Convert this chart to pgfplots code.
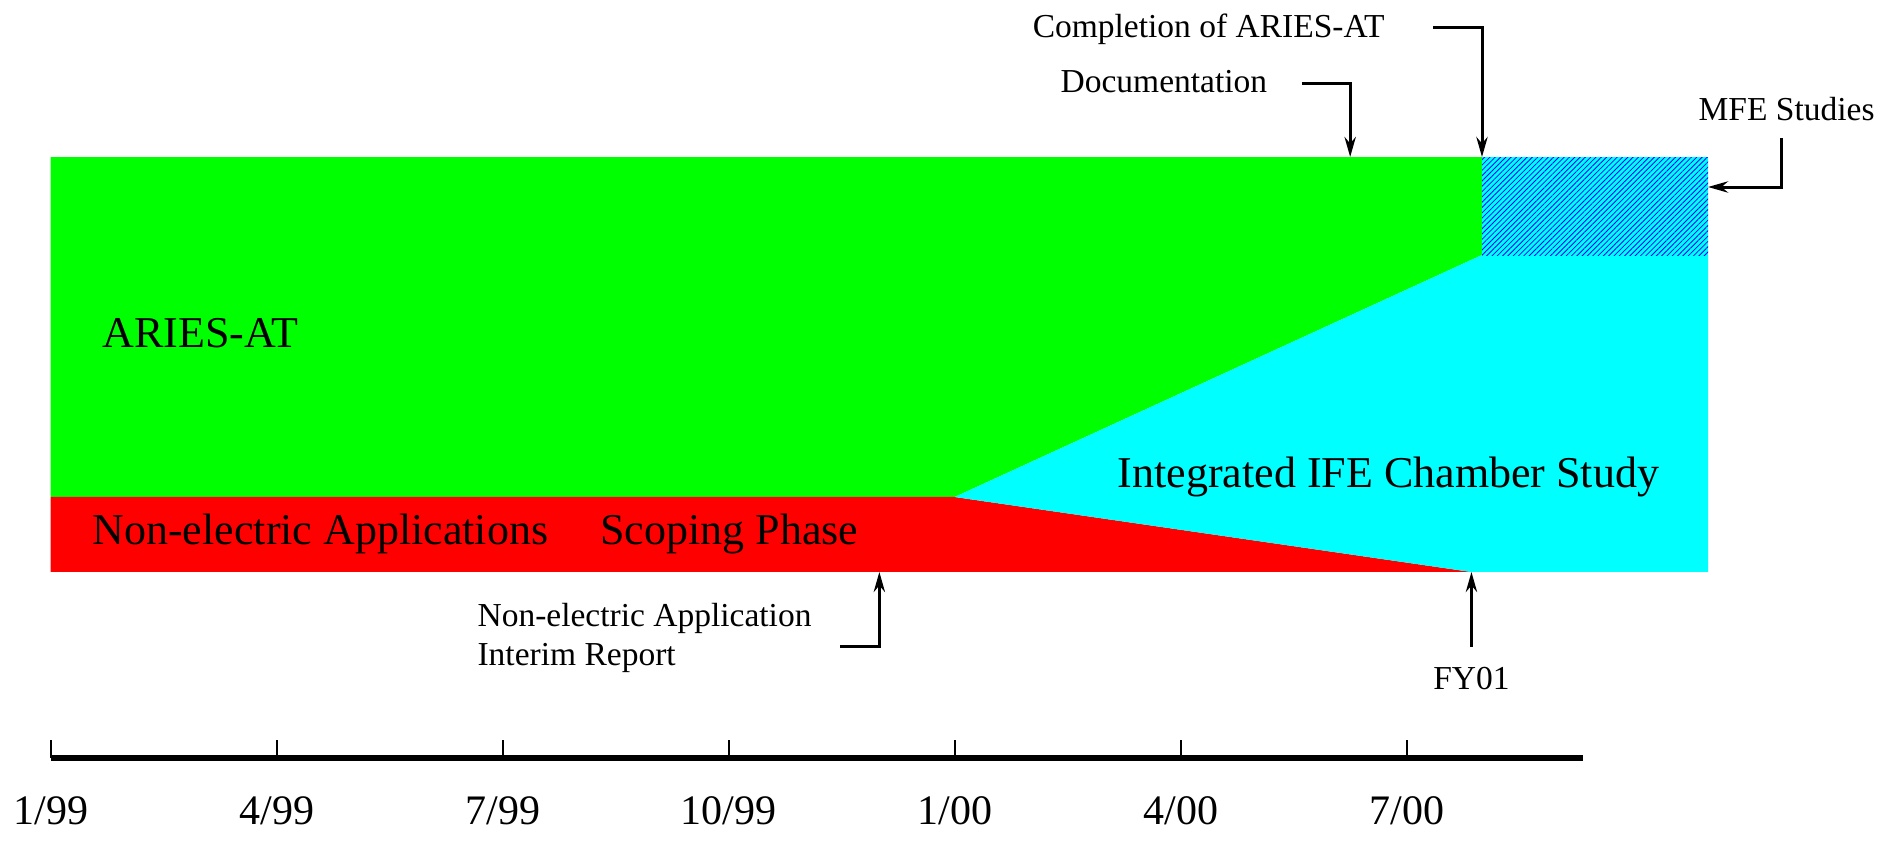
\documentclass[border=0pt]{standalone}
\usepackage{pgfplots}
\pgfplotsset{compat=1.18}
\usepackage{fontspec}
\setmainfont{Liberation Serif}
\usetikzlibrary{arrows.meta,patterns.meta}
\definecolor{cgreen}{RGB}{0,255,0}
\definecolor{cred}{RGB}{255,0,0}
\definecolor{ccyan}{RGB}{0,255,255}
\definecolor{cblue}{RGB}{0,0,255}
\newcommand{\bigfont}{\fontsize{17.6}{20}\selectfont}
\newcommand{\annfont}{\fontsize{13.4}{15.6}\selectfont}
\newcommand{\tickfont}{\fontsize{16.8}{20}\selectfont}
\begin{document}
\begin{tikzpicture}
\begin{axis}[
  name=main,
  scale only axis,
  width=755.6pt, height=336.4pt,
  xmin=-0.673, xmax=24.403,
  ymin=0, ymax=841, y dir=reverse,
  hide axis, clip=false, no markers,
  every axis plot/.append style={line join=miter},
]
% ARIES-AT (green)
\addplot[fill=cgreen, draw=none] coordinates {(0,157) (19,157) (19,255) (12,497) (0,497)} -- cycle;
% Non-electric applications (red)
\addplot[fill=cred, draw=none] coordinates {(0,497) (12,497) (18.86,572) (0,572)} -- cycle;
% Integrated IFE chamber study (cyan)
\addplot[fill=ccyan, draw=none] coordinates {(12,497) (19,255) (22,255) (22,572) (18.86,572)} -- cycle;
% MFE studies (hatched)
\addplot[fill=ccyan, draw=none] coordinates {(19,157) (22,157) (22,255) (19,255)} -- cycle;
\addplot[pattern={Lines[angle=45,distance=1.5pt,line width=0.32pt]}, pattern color=cblue, draw=none] coordinates {(19,157) (22,157) (22,255) (19,255)} -- cycle;

% annotation arrows
\addplot[black, line width=1.2pt, -{Stealth[length=8pt,width=4.5pt]}] coordinates {(18.35,27) (19,27) (19,157)};
\addplot[black, line width=1.2pt, -{Stealth[length=8pt,width=4.5pt]}] coordinates {(16.61,83) (17.25,83) (17.25,157)};
\addplot[black, line width=1.2pt, -{Stealth[length=8pt,width=4.5pt]}] coordinates {(22.98,138) (22.98,187) (22,187)};
\addplot[black, line width=1.2pt, -{Stealth[length=8pt,width=4.5pt]}] coordinates {(10.48,647) (11.0,647) (11.0,572)};
\addplot[black, line width=1.2pt, -{Stealth[length=8pt,width=4.5pt]}] coordinates {(18.86,647) (18.86,572)};

% labels
\node[anchor=base west, inner sep=0, font=\bigfont] at (axis cs:0.681,347) {ARIES-AT};
\node[anchor=base west, inner sep=0, font=\bigfont] at (axis cs:0.549,544) {Non-electric Applications};
\node[anchor=base west, inner sep=0, font=\bigfont] at (axis cs:7.29,544) {Scoping Phase};
\node[anchor=base west, inner sep=0, font=\bigfont] at (axis cs:14.16,487) {Integrated IFE Chamber Study};
\node[anchor=base west, inner sep=0, font=\annfont] at (axis cs:13.03,37) {Completion of ARIES-AT};
\node[anchor=base west, inner sep=0, font=\annfont] at (axis cs:13.40,92) {Documentation};
\node[anchor=base west, inner sep=0, font=\annfont] at (axis cs:21.87,120) {MFE Studies};
\node[anchor=base west, inner sep=0, font=\annfont] at (axis cs:5.66,627) {Non-electric Application};
\node[anchor=base west, inner sep=0, font=\annfont] at (axis cs:5.66,666) {Interim Report};
\node[anchor=base, inner sep=0, font=\annfont] at (axis cs:18.86,690) {FY01};
\end{axis}
\begin{axis}[
  name=tl,
  at={(main.south west)}, anchor=south west, xshift=20.28pt, yshift=33.2pt,
  scale only axis,
  width=612.9pt, height=20pt,
  xmin=0, xmax=20.34, ymin=0, ymax=1,
  axis y line=none, axis x line*=bottom,
  x axis line style={line width=2.7pt, black},
  xtick={0,3,6,9,12,15,18},
  xticklabels={1/99,4/99,7/99,10/99,1/00,4/00,7/00},
  tick align=inside,
  major tick length=7.2pt,
  x tick style={line width=0.8pt, black},
  xticklabel style={font=\tickfont, yshift=-12pt},
  clip=false,
]
\addplot[draw=none] coordinates {(0,0) (20.34,0)};
\end{axis}
\pgfresetboundingbox
\path[use as bounding box] (main.south west) rectangle (main.north east);
\end{tikzpicture}
\end{document}
